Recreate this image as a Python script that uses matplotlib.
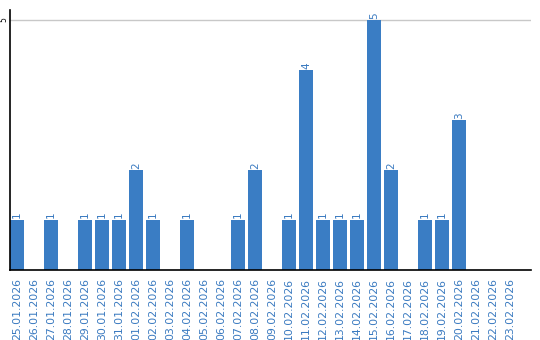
import numpy as np
import matplotlib
matplotlib.use("Agg")
import matplotlib.pyplot as plt

dates = ["25.01.2026", "26.01.2026", "27.01.2026", "28.01.2026", "29.01.2026",
         "30.01.2026", "31.01.2026", "01.02.2026", "02.02.2026", "03.02.2026",
         "04.02.2026", "05.02.2026", "06.02.2026", "07.02.2026", "08.02.2026",
         "09.02.2026", "10.02.2026", "11.02.2026", "12.02.2026", "13.02.2026",
         "14.02.2026", "15.02.2026", "16.02.2026", "17.02.2026", "18.02.2026",
         "19.02.2026", "20.02.2026", "21.02.2026", "22.02.2026", "23.02.2026"]
counts = [1, 0, 1, 0, 1, 1, 1, 2, 1, 0,
          1, 0, 0, 1, 2, 0, 1, 4, 1, 1,
          1, 5, 2, 0, 1, 1, 3, 0, 0, 0]

bar_col = "#3a7dc4"
txt_col = "#3a7ac0"

fig = plt.figure(figsize=(5.4, 3.4), dpi=100)
ax = fig.add_axes([10/540, 70/340, 521/540, 260/340])

x = np.arange(len(dates))
w = 14/17
ax.bar(x, counts, width=w, align="edge", color=bar_col, zorder=2)

# etiquettes de valeur au-dessus des barres
for i, v in enumerate(counts):
    if v > 0:
        ax.text(i + w/2, v + 0.03, str(v), rotation=90, ha="center", va="bottom",
                fontsize=7.5, color=txt_col)

ax.set_xlim(0, 30.65)
ax.set_ylim(0, 5.2)
ax.set_xticks(x + w/2)
ax.set_xticklabels(dates, rotation=90, fontsize=7.8, color=txt_col)
ax.set_yticks([5])
ax.set_yticklabels(["5"], rotation=90, fontsize=5.5, va="center")
ax.tick_params(axis="both", length=0)
ax.tick_params(axis="x", pad=6)
ax.tick_params(axis="y", pad=1)
ax.grid(axis="y", color="#c8c8c8", linewidth=1, zorder=0)

for s in ["top", "right"]:
    ax.spines[s].set_visible(False)
ax.spines["left"].set_linewidth(1.2)
ax.spines["bottom"].set_linewidth(1.2)

fig.savefig("out.png", dpi=100)
